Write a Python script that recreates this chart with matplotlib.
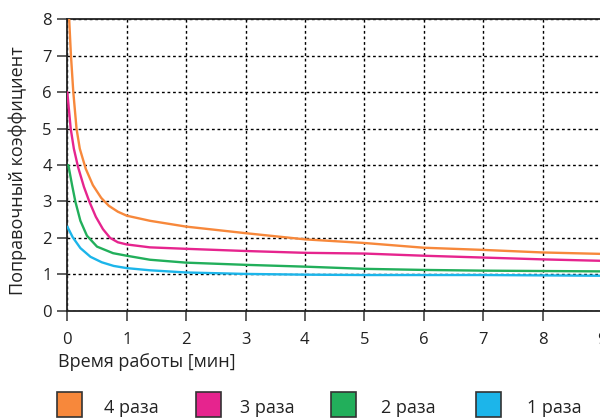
import matplotlib
matplotlib.use("Agg")
import matplotlib.pyplot as plt
from matplotlib.patches import Rectangle

plt.rcParams['font.family'] = ['Open Sans', 'DejaVu Sans']

# Data
x_4 = [0.03, 0.06, 0.10, 0.155, 0.21, 0.31, 0.43, 0.57, 0.70, 0.85, 1.0, 1.39, 2, 3, 4, 5, 6, 7, 8, 9]
y_4 = [8.05, 7.04, 6.02, 5.0, 4.45, 3.9, 3.45, 3.1, 2.88, 2.72, 2.61, 2.47, 2.31, 2.13, 1.96, 1.86, 1.73, 1.67, 1.60, 1.56]

x_3 = [0.0, 0.057, 0.11, 0.18, 0.28, 0.37, 0.48, 0.60, 0.72, 0.85, 1.0, 1.39, 2, 3, 4, 5, 6, 7, 8, 9]
y_3 = [6.0, 5.0, 4.45, 3.95, 3.4, 3.0, 2.58, 2.24, 2.0, 1.88, 1.82, 1.74, 1.70, 1.64, 1.59, 1.57, 1.51, 1.46, 1.41, 1.37]

x_2 = [0.017, 0.08, 0.135, 0.22, 0.33, 0.50, 0.77, 1.0, 1.39, 2, 3, 4, 5, 6, 7, 8, 9]
y_2 = [4.0, 3.45, 3.0, 2.47, 2.06, 1.76, 1.58, 1.51, 1.40, 1.32, 1.26, 1.21, 1.15, 1.12, 1.10, 1.09, 1.08]

x_1 = [0.0, 0.09, 0.22, 0.39, 0.58, 0.78, 1.0, 1.39, 2, 3, 4, 5, 6, 7, 8, 9]
y_1 = [2.31, 2.02, 1.72, 1.48, 1.33, 1.23, 1.17, 1.11, 1.05, 1.01, 0.99, 0.98, 0.98, 0.98, 0.97, 0.96]

series_labels = ['4 раза', '3 раза', '2 раза', '1 раза']
series_colors = ['#F7883B', '#E6248E', '#22AF5B', '#1CB5EA']
series = [(x_4, y_4), (x_3, y_3), (x_2, y_2), (x_1, y_1)]

x_ticks = list(range(0, 10))
y_ticks = list(range(0, 9))

fig = plt.figure(figsize=(6.0, 4.18), dpi=100)
ax = fig.add_axes([0.1122, 0.2567, 0.891, 0.6967])

for (xs, ys), c in zip(series, series_colors):
    ax.plot(xs, ys, color=c, lw=1.7, solid_capstyle='round',
            solid_joinstyle='round', zorder=3)

ax.set_xlim(0, 9)
ax.set_ylim(0, 8)
ax.set_xticks(x_ticks)
ax.set_yticks(y_ticks)
ax.grid(True, color='black', lw=1.0, linestyle=(0, (2, 2)), zorder=1)
ax.set_axisbelow(True)
for s in ['left', 'bottom', 'top']:
    ax.spines[s].set_color('#222222')
    ax.spines[s].set_linewidth(1.3)
ax.spines['right'].set_visible(False)
ax.tick_params(direction='out', length=7.2, width=1.1, color='#333333',
               labelsize=12, labelcolor='#222222')
ax.tick_params(axis='x', pad=8)
ax.tick_params(axis='y', pad=4)

ax.set_xlabel('Время работы [мин]', fontsize=13, color='#222222', ha='left')
ax.xaxis.set_label_coords(-0.017, -0.145)
ax.set_ylabel('Поправочный коэффициент', fontsize=13, color='#222222')
ax.yaxis.set_label_coords(-0.075, 0.48)

# Legend (manual layout)
sq_x = [57, 196, 331, 476]
lab_x = [104, 240, 381, 527]
W, H = 600.0, 418.0
for i, (lab, c) in enumerate(zip(series_labels, series_colors)):
    fig.add_artist(Rectangle((sq_x[i] / W, 1 - 417 / H), 25 / W, 25 / H,
                             transform=fig.transFigure, facecolor=c,
                             edgecolor='#333333', lw=1.2))
    fig.text(lab_x[i] / W, 1 - 413 / H, lab, fontsize=13, color='#222222',
             ha='left', va='baseline')

fig.savefig('out.png', dpi=100)
